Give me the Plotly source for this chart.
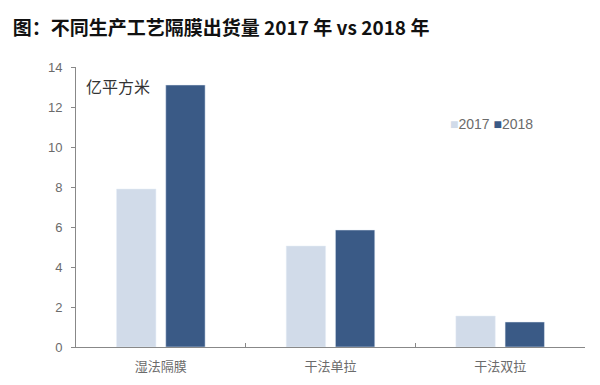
import plotly.graph_objects as go

categories = ["湿法隔膜", "干法单拉", "干法双拉"]
values_2017 = [7.9, 5.05, 1.55]
values_2018 = [13.1, 5.85, 1.25]
y_ticks = [0, 2, 4, 6, 8, 10, 12, 14]
c2017 = "#D1DBE9"
c2018 = "#3A5A86"

fig = go.Figure()
fig.add_trace(go.Bar(name="2017", x=categories, y=values_2017, marker_color=c2017))
fig.add_trace(go.Bar(name="2018", x=categories, y=values_2018, marker_color=c2018))

fig.update_layout(
    width=600, height=385,
    margin=dict(l=68, r=23, t=59, b=46),
    paper_bgcolor="white", plot_bgcolor="white",
    barmode="group", bargap=0.42, bargroupgap=0.2,
    font=dict(family="Noto Sans CJK SC", color="#595959", size=12),
    title=dict(text="<b>图：不同生产工艺隔膜出货量 2017 年 vs 2018 年</b>",
               x=0.008, xanchor="left", y=0.948, yanchor="middle",
               font=dict(size=19, color="#111111", family="Noto Sans CJK SC")),
    showlegend=False,
)
fig.update_yaxes(range=[0, 14], tickvals=y_ticks, showgrid=False, showline=True,
                 linecolor="#888888", linewidth=1, ticks="outside", ticklen=4,
                 tickcolor="#888888", zeroline=False, ticklabelstandoff=6,
                 tickfont=dict(size=13, color="#6b6b6b", family="Liberation Sans"))
fig.update_xaxes(showgrid=False, showline=True, linecolor="#888888", linewidth=1,
                 ticks="inside", tickson="boundaries", ticklen=4, tickcolor="#888888",
                 ticklabelstandoff=7,
                 tickfont=dict(size=13, color="#6b6b6b"))
fig.add_annotation(text="亿平方米", xref="paper", yref="paper", x=0.015, y=0.932,
                   xanchor="left", yanchor="middle", showarrow=False,
                   font=dict(size=16, color="#333333"))
fig.add_annotation(
    text=f"<span style='color:{c2017}'>■</span>2017 <span style='color:{c2018}'>■</span>2018",
    xref="paper", yref="paper", x=0.731, y=0.796, xanchor="left", yanchor="middle",
    showarrow=False, font=dict(size=14, color="#6b6b6b", family="Liberation Sans"))
fig.write_html("out.html")
